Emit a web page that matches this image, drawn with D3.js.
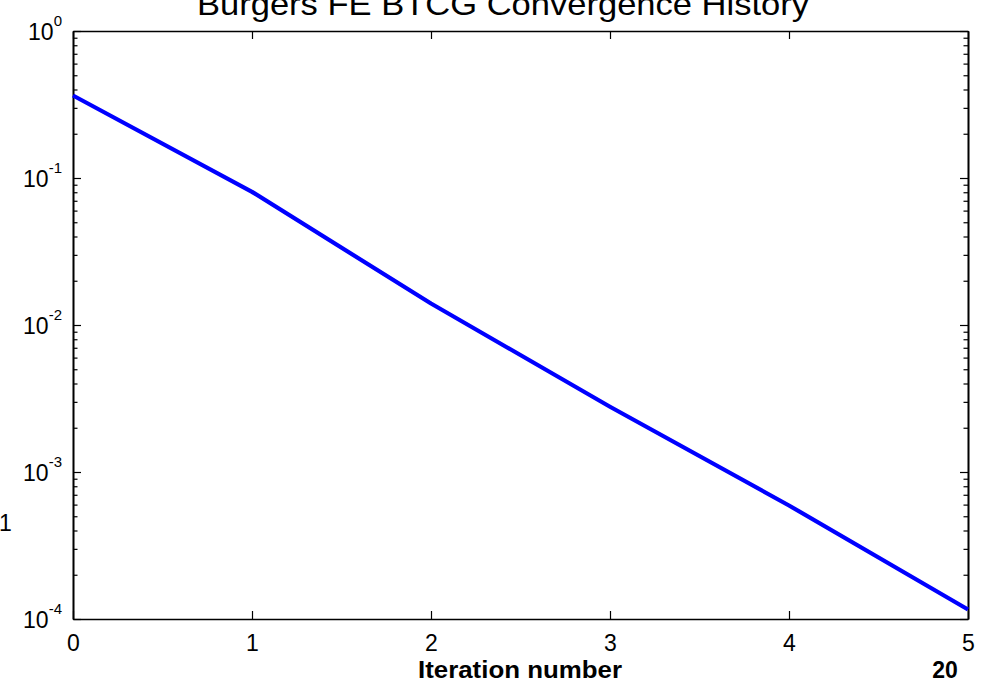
<!DOCTYPE html>
<html>
<head>
<meta charset="utf-8">
<script src="https://cdn.jsdelivr.net/npm/d3@7"></script>
<style>
  html, body { margin: 0; padding: 0; background: #fff; overflow: hidden; }
  svg { display: block; }
  text { font-family: "Liberation Sans", Arial, Helvetica, sans-serif; fill: #000; }
</style>
</head>
<body>
<script>
// Convergence history of the Burgers FE BTCG solver
const iterations = [0, 1, 2, 3, 4, 5];
const residuals = [0.364, 0.0805, 0.0140, 0.00278, 0.000592, 0.000116];

const xTicks = [0, 1, 2, 3, 4, 5];
const yMajorTicks = [1e-4, 1e-3, 1e-2, 1e-1, 1];
const yExponents = ["-4", "-3", "-2", "-1", "0"];

const titleText = "Burgers FE BTCG Convergence History";
const xLabelText = "Iteration number";
const cornerText = "20";
const sideText = "1";

const W = 983, H = 686;
const plotLeft = 73, plotRight = 968, plotTop = 31, plotBottom = 619;

const svg = d3.select("body").append("svg")
  .attr("width", W).attr("height", H);

const x = d3.scaleLinear().domain([0, 5]).range([plotLeft, plotRight]);
const y = d3.scaleLog().domain([1e-4, 1]).range([plotBottom, plotTop]);

// minor log ticks 2..9 within each decade
const yMinorTicks = [];
for (let e = -4; e < 0; e++) {
  for (let k = 2; k <= 9; k++) yMinorTicks.push(k * Math.pow(10, e));
}

function styleAxis(g) {
  g.select(".domain").attr("stroke", "#000").attr("stroke-width", 1.6);
  g.selectAll(".tick line").attr("stroke", "#000").attr("stroke-width", 1.2);
}

// x axes (bottom with labels, top ticks only)
svg.append("g")
  .attr("transform", `translate(0,${plotBottom})`)
  .call(d3.axisBottom(x).tickValues(xTicks).tickSizeInner(-8).tickSizeOuter(0)
        .tickPadding(16).tickFormat(d3.format("d")))
  .call(styleAxis)
  .call(g => g.selectAll(".tick text").attr("font-size", 23).attr("font-family", null));

svg.append("g")
  .attr("transform", `translate(0,${plotTop})`)
  .call(d3.axisTop(x).tickValues(xTicks).tickSizeInner(-8).tickSizeOuter(0).tickFormat(""))
  .call(styleAxis);

// y axes: major + minor, left and right
const yLeft = svg.append("g")
  .attr("transform", `translate(${plotLeft},0)`)
  .call(d3.axisLeft(y).tickValues(yMajorTicks).tickSizeInner(-8).tickSizeOuter(0).tickFormat(""))
  .call(styleAxis);

svg.append("g")
  .attr("transform", `translate(${plotLeft},0)`)
  .call(d3.axisLeft(y).tickValues(yMinorTicks).tickSizeInner(-4.5).tickSizeOuter(0).tickFormat(""))
  .call(styleAxis);

svg.append("g")
  .attr("transform", `translate(${plotRight},0)`)
  .call(d3.axisRight(y).tickValues(yMajorTicks).tickSizeInner(-8).tickSizeOuter(0).tickFormat(""))
  .call(styleAxis);

svg.append("g")
  .attr("transform", `translate(${plotRight},0)`)
  .call(d3.axisRight(y).tickValues(yMinorTicks).tickSizeInner(-4.5).tickSizeOuter(0).tickFormat(""))
  .call(styleAxis);

// y tick labels as 10 with superscript exponent
yLeft.selectAll(".tick").each(function(d) {
  const t = d3.select(this).select("text")
    .attr("x", -11).attr("y", 8.5).attr("dy", null)
    .attr("text-anchor", "end").attr("font-family", null);
  t.append("tspan").attr("font-size", 23).text("10");
  t.append("tspan").attr("font-size", 15).attr("dy", -14.5)
    .text(yExponents[yMajorTicks.indexOf(d)]);
});

// residual curve
const line = d3.line().x((d, i) => x(iterations[i])).y(d => y(d));
svg.append("path")
  .datum(residuals)
  .attr("fill", "none")
  .attr("stroke", "#0000ff")
  .attr("stroke-width", 4.2)
  .attr("stroke-linejoin", "round")
  .attr("d", line);

// title
svg.append("text")
  .attr("x", 503).attr("y", 15)
  .attr("text-anchor", "middle")
  .attr("font-size", 32)
  .attr("textLength", 612)
  .attr("lengthAdjust", "spacingAndGlyphs")
  .text(titleText);

// x label
svg.append("text")
  .attr("x", 520).attr("y", 678)
  .attr("text-anchor", "middle")
  .attr("font-size", 23)
  .attr("font-weight", "bold")
  .attr("textLength", 204)
  .attr("lengthAdjust", "spacingAndGlyphs")
  .text(xLabelText);

svg.append("text")
  .attr("x", 945).attr("y", 678)
  .attr("text-anchor", "middle")
  .attr("font-size", 23)
  .attr("font-weight", "bold")
  .text(cornerText);

svg.append("text")
  .attr("x", -1).attr("y", 531)
  .attr("font-size", 23)
  .text(sideText);
</script>
</body>
</html>
